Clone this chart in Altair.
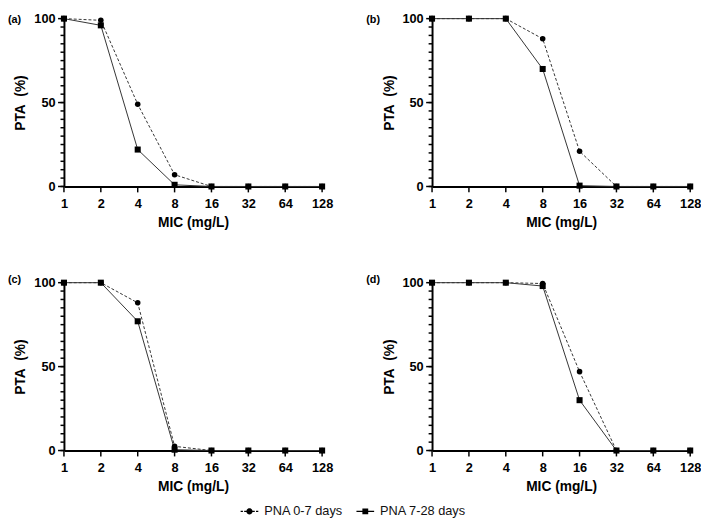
import altair as alt
import pandas as pd

# ---- data ----
mic = [1, 2, 4, 8, 16, 32, 64, 128]
groups = ["PNA 0-7 days", "PNA 7-28 days"]
panel_labels = ["(a)", "(b)", "(c)", "(d)"]

pta_a_early = [100, 99, 49, 7, 0, 0, 0, 0]
pta_a_late = [100, 96, 22, 1, 0, 0, 0, 0]
pta_b_early = [100, 100, 100, 88, 21, 0, 0, 0]
pta_b_late = [100, 100, 100, 70, 0.5, 0, 0, 0]
pta_c_early = [100, 100, 88, 2.5, 0, 0, 0, 0]
pta_c_late = [100, 100, 77, 0.5, 0, 0, 0, 0]
pta_d_early = [100, 100, 100, 99.5, 47, 0, 0, 0]
pta_d_late = [100, 100, 100, 98, 30, 0, 0, 0]

y_major_values = [0, 50, 100]
y_minor_values = [0, 5, 10, 15, 20, 25, 30, 35, 40, 45, 50,
                  55, 60, 65, 70, 75, 80, 85, 90, 95, 100]

FONT = "Liberation Sans"

# legend symbols: line + marker
circle_path = ("M-1,-0.07H-0.74V0.07H-1Z "
               "M-0.6,-0.07H-0.343A0.35,0.35 0 0 1 0.343,-0.07H0.6V0.07H0.343"
               "A0.35,0.35 0 0 1 -0.343,0.07H-0.6Z "
               "M0.74,-0.07H1V0.07H0.74Z")
square_path = ("M-1,-0.07H-0.33V-0.33H0.33V-0.07H1V0.07H0.33V0.33H-0.33V0.07H-1Z")

PANEL_W = 263
PANEL_H = 171
MAJOR_LEN = 6
MINOR_LEN = 3.5


def make_panel(label, early, late, label_dx, label_dy, legend=False):
    df = pd.DataFrame({
        "mic": mic + mic,
        "pta": early + late,
        "group": [groups[0]] * len(mic) + [groups[1]] * len(mic),
    })
    x = alt.X("mic:Q",
              scale=alt.Scale(type="log", base=2, domain=[1, 128]),
              axis=alt.Axis(values=mic, format="d", title="MIC (mg/L)",
                            labelFlush=False, labelOverlap=False,
                            ticks=False, tickSize=0, labelPadding=11,
                            titlePadding=6))
    y = alt.Y("pta:Q",
              scale=alt.Scale(domain=[0, 100], nice=False),
              axis=alt.Axis(values=y_major_values,
                            labelFlush=False, labelOverlap=False,
                            ticks=False, tickSize=0, labelPadding=9,
                            title="PTA\u00a0 (%)", titlePadding=6))

    # axis tick marks, positioned through the panel's scales
    x_ticks = alt.Chart(pd.DataFrame({"mic": mic})).mark_rule(
        color="black", strokeWidth=1.5).encode(
        x=x, y=alt.value(PANEL_H), y2=alt.value(PANEL_H + MAJOR_LEN))
    y_minor = alt.Chart(pd.DataFrame({"pta": y_minor_values})).mark_rule(
        color="black", strokeWidth=1.5).encode(
        y=y, x=alt.value(-MINOR_LEN), x2=alt.value(0))
    y_major = alt.Chart(pd.DataFrame({"pta": y_major_values})).mark_rule(
        color="black", strokeWidth=1.5).encode(
        y=y, x=alt.value(-MAJOR_LEN), x2=alt.value(0))

    base = alt.Chart(df).encode(x=x, y=y)
    line_early = base.transform_filter(alt.datum.group == groups[0]).mark_line(
        color="#333333", strokeWidth=1, strokeDash=[3, 2])
    line_late = base.transform_filter(alt.datum.group == groups[1]).mark_line(
        color="#333333", strokeWidth=1)
    pt_early = base.transform_filter(alt.datum.group == groups[0]).mark_point(
        shape="circle", filled=True, size=32, color="black", opacity=1)
    pt_late = base.transform_filter(alt.datum.group == groups[1]).mark_point(
        shape="square", filled=True, size=38, color="black", opacity=1)
    txt = alt.Chart(pd.DataFrame({"t": [label]})).mark_text(
        align="left", baseline="middle", fontSize=11, fontWeight="bold",
        font=FONT, color="black").encode(
        text="t:N", x=alt.value(label_dx), y=alt.value(label_dy))
    layers = [x_ticks, y_minor, y_major, line_early, line_late, pt_early, pt_late, txt]
    if legend:
        leg = base.mark_point(filled=True, color="black", opacity=0).encode(
            shape=alt.Shape("group:N",
                            scale=alt.Scale(domain=groups, range=[circle_path, square_path]),
                            legend=alt.Legend(title=None, orient="none", direction="horizontal",
                                              legendX=180, legendY=493,
                                              symbolSize=324, symbolOpacity=1,
                                              symbolFillColor="black", symbolStrokeWidth=0,
                                              labelFont=FONT, labelFontSize=13,
                                              labelColor="#111111", labelOffset=6,
                                              columnPadding=13)))
        layers.append(leg)
    return alt.layer(*layers).properties(width=PANEL_W, height=PANEL_H)


pa = make_panel(panel_labels[0], pta_a_early, pta_a_late, -57, 1, legend=True)
pb = make_panel(panel_labels[1], pta_b_early, pta_b_late, -67, 1)
pc = make_panel(panel_labels[2], pta_c_early, pta_c_late, -57, -3)
pd_ = make_panel(panel_labels[3], pta_d_early, pta_d_late, -67, -3)

top = alt.hconcat(pa, pb, spacing=34)
bottom = alt.hconcat(pc, pd_, spacing=34)

chart = alt.vconcat(top, bottom, spacing=45).properties(
    padding=0
).configure_view(stroke=None).configure_axis(
    domainColor="black", domainWidth=2, grid=False,
    labelFont=FONT, labelFontSize=13, labelFontWeight="bold", labelColor="black",
    titleFont=FONT, titleFontSize=14, titleFontWeight="bold", titleColor="black",
)

chart.save("out.html", embed_options={"renderer": "svg", "actions": False})
